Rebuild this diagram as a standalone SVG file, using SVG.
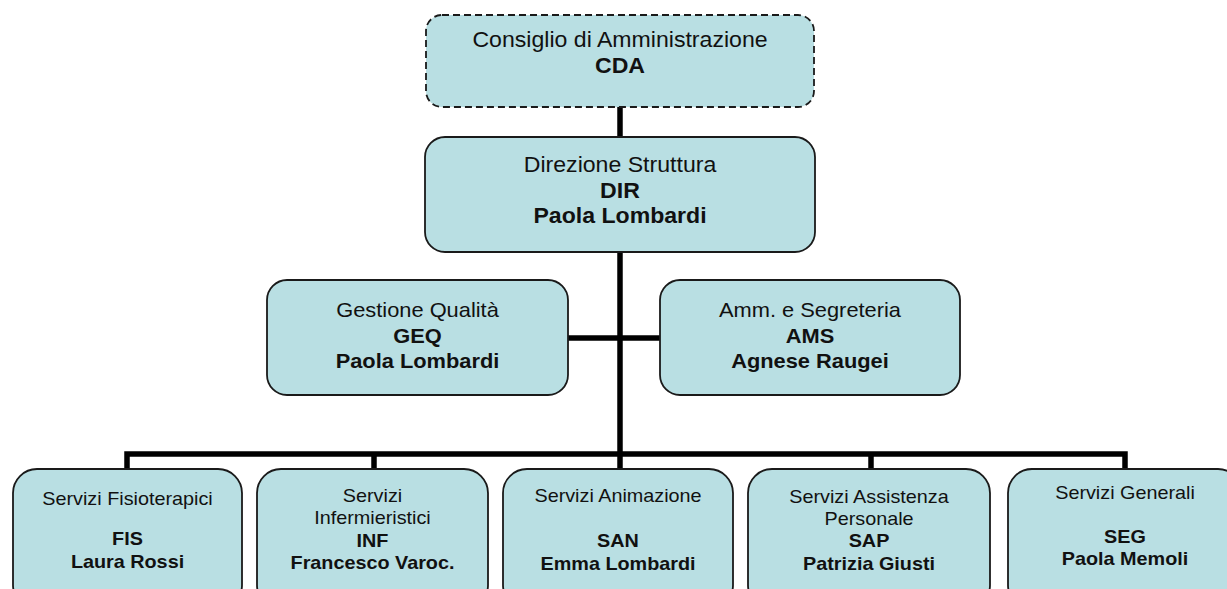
<svg xmlns="http://www.w3.org/2000/svg" width="1227" height="589" viewBox="0 0 1227 589">
<style>
.box{fill:#b9dfe3;stroke:#1a1a1a;stroke-width:1.8}
.dash{stroke-dasharray:7 4}
.t{font-family:"Liberation Sans",Arial,sans-serif;fill:#111;text-anchor:middle}
.b{font-weight:bold}
.top{font-size:22px}
.mid{font-size:21px}
.bot{font-size:18px}
.conn{fill:none;stroke:#000;stroke-width:5.5;stroke-linejoin:miter;stroke-linecap:butt}
</style>
<rect width="1227" height="589" fill="#fff"/>
<g id="connectors">
<line class="conn" x1="620" y1="106" x2="620" y2="138"/>
<line class="conn" x1="620" y1="251" x2="620" y2="470"/>
<line class="conn" x1="567" y1="338" x2="661" y2="338"/>
<path class="conn" d="M127,470 V454 H1125 V470"/>
<line class="conn" x1="374" y1="454" x2="374" y2="470"/>
<line class="conn" x1="871" y1="454" x2="871" y2="470"/>
</g>
<g id="CDA">
<rect class="box dash" x="426" y="15" width="388" height="92" rx="16"/>
<g transform="translate(620,0) scale(1.05,1)">
<text class="t top" x="0" y="47">Consiglio di Amministrazione</text>
<text class="t top b" x="0" y="73">CDA</text>
</g>
</g>
<g id="DIR">
<rect class="box" x="425" y="137" width="390" height="115" rx="20"/>
<g transform="translate(620,0) scale(1.05,1)">
<text class="t top" x="0" y="172">Direzione Struttura</text>
<text class="t top b" x="0" y="198">DIR</text>
<text class="t top b" x="0" y="223">Paola Lombardi</text>
</g>
</g>
<g id="GEQ">
<rect class="box" x="267" y="280" width="301" height="115" rx="20"/>
<g transform="translate(417.5,0) scale(1.04,1)">
<text class="t mid" x="0" y="317">Gestione Qualità</text>
<text class="t mid b" x="0" y="343">GEQ</text>
<text class="t mid b" x="0" y="368">Paola Lombardi</text>
</g>
</g>
<g id="AMS">
<rect class="box" x="660" y="280" width="300" height="115" rx="20"/>
<g transform="translate(810,0) scale(1.04,1)">
<text class="t mid" x="0" y="317">Amm. e Segreteria</text>
<text class="t mid b" x="0" y="343">AMS</text>
<text class="t mid b" x="0" y="368">Agnese Raugei</text>
</g>
</g>
<g id="FIS">
<rect class="box" x="13" y="469" width="229" height="140" rx="24"/>
<g transform="translate(127.5,0) scale(1.1,1)">
<text class="t bot" x="0" y="505">Servizi Fisioterapici</text>
<text class="t bot b" x="0" y="545">FIS</text>
<text class="t bot b" x="0" y="568">Laura Rossi</text>
</g>
</g>
<g id="INF">
<rect class="box" x="257" y="469" width="231" height="140" rx="24"/>
<g transform="translate(372.5,0) scale(1.1,1)">
<text class="t bot" x="0" y="502">Servizi</text>
<text class="t bot" x="0" y="524">Infermieristici</text>
<text class="t bot b" x="0" y="547">INF</text>
<text class="t bot b" x="0" y="569">Francesco Varoc.</text>
</g>
</g>
<g id="SAN">
<rect class="box" x="503" y="469" width="230" height="140" rx="24"/>
<g transform="translate(618,0) scale(1.1,1)">
<text class="t bot" x="0" y="502">Servizi Animazione</text>
<text class="t bot b" x="0" y="547">SAN</text>
<text class="t bot b" x="0" y="570">Emma Lombardi</text>
</g>
</g>
<g id="SAP">
<rect class="box" x="748" y="469" width="242" height="140" rx="24"/>
<g transform="translate(869,0) scale(1.1,1)">
<text class="t bot" x="0" y="503">Servizi Assistenza</text>
<text class="t bot" x="0" y="525">Personale</text>
<text class="t bot b" x="0" y="547">SAP</text>
<text class="t bot b" x="0" y="570">Patrizia Giusti</text>
</g>
</g>
<g id="SEG">
<rect class="box" x="1008" y="469" width="234" height="140" rx="24"/>
<g transform="translate(1125,0) scale(1.1,1)">
<text class="t bot" x="0" y="499">Servizi Generali</text>
<text class="t bot b" x="0" y="543">SEG</text>
<text class="t bot b" x="0" y="565">Paola Memoli</text>
</g>
</g>
</svg>
